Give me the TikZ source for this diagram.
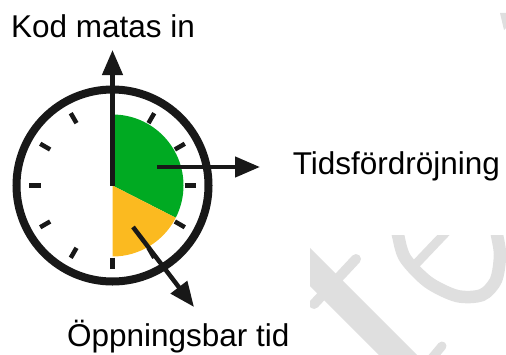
\documentclass[tikz,border=0pt]{standalone}
\usepackage{fontspec}
\setmainfont{Liberation Sans}
\usetikzlibrary{arrows.meta,calc}
\definecolor{clkgreen}{RGB}{0,170,34}
\definecolor{clkyellow}{RGB}{251,186,32}
\definecolor{clkblack}{RGB}{24,24,24}
\definecolor{wmgray}{RGB}{223,223,223}
\tikzset{
  ring/.style={draw=clkblack, line width=8bp},
  tickmark/.style={draw=clkblack, line width=4.5bp},
  hand/.style={draw=clkblack, line width=4.5bp, -{Triangle[length=25bp,width=20bp]}},
  label/.style={anchor=base west, inner sep=0pt, font=\fontsize{31.5bp}{36bp}\selectfont, text=black},
  wmark/.style={draw=wmgray, line cap=round},
}
\begin{document}
\begin{tikzpicture}[x=1bp,y=1bp]
\useasboundingbox (0,0) rectangle (506,354);
% watermark (faint)
\begin{scope}
  \clip (310,0) rectangle (506,119);
  \draw[wmark, line width=27bp, line cap=butt] (290,107) -- (430,-33);
  \draw[wmark, line width=10bp] (314,50) -- (356,95);
  \draw[wmark, line width=12.5bp] plot[smooth] coordinates {(397,125) (398,119) (405,96) (428,72) (457,58) (482,59) (496,74) (500,99) (497,119) (496,125)};
  \draw[wmark, line width=9bp, line cap=butt] (413,87) -- (452,128);
  \draw[wmark, line width=9bp] (432,-4) -- (442,8);
\end{scope}
\fill[wmgray] (500,341) -- (506,341) -- (506,326) -- (504,324) -- cycle;
% clock
\coordinate (c) at (112.5,168.5);
\fill[clkgreen] (c) -- ++(90:71bp) arc[start angle=90, end angle=-27, radius=71bp] -- cycle;
\fill[clkyellow] (c) -- ++(-27:71bp) arc[start angle=-27, end angle=-90, radius=71bp] -- cycle;
\draw[ring] (c) circle[radius=96bp];
\foreach \a in {60,30,0,-30,-60,-90,-120,-150,180,150,120}{
  \draw[tickmark] ($(c)+(\a:72bp)$) -- ($(c)+(\a:83.5bp)$);
}
% hands
\coordinate (tipup) at (112.5,304);
\coordinate (startright) at (157,187);
\coordinate (tipright) at (260,187);
\coordinate (startdown) at (133,127);
\coordinate (tipdown) at (194,47);
\draw[hand] (c) -- (tipup);
\draw[hand] (startright) -- (tipright);
\draw[hand] (startdown) -- (tipdown);
% labels
\node[label] (kod) at (11,316.7) {Kod matas in};
\node[label] (tids) at (292.6,179.5) {Tidsfördröjning};
\node[label] (oppn) at (66.8,7.3) {Öppningsbar tid};
\end{tikzpicture}
\end{document}
